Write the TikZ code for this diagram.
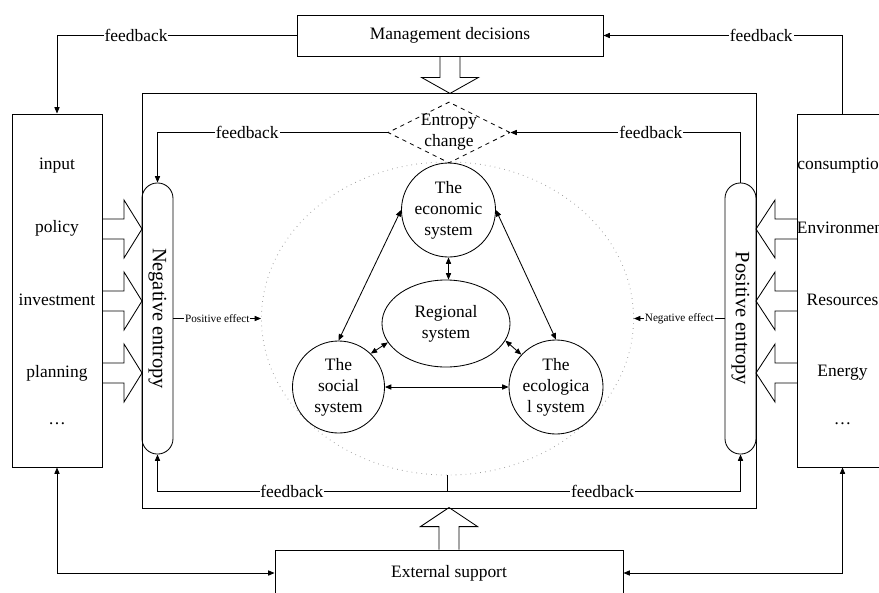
\documentclass[tikz,border=0pt]{standalone}
\usepackage{fontspec}
\setmainfont{Liberation Serif}
\usepackage{graphicx}
\usetikzlibrary{arrows.meta,shapes.geometric}

\begin{document}
\begin{tikzpicture}[x=0.025cm, y=-0.025cm, line width=0.6pt,
    font=\fontsize{12.4}{15}\selectfont,
    >={Triangle[length=1.6mm,width=1.3mm]},
    box/.style={draw, minimum width=2.25cm, minimum height=8.825cm},
    sysnode/.style={draw, circle, align=center, inner sep=0pt, minimum size=2.35cm},
    capsule/.style={draw, rounded corners=3.85mm, minimum width=0.775cm, minimum height=6.775cm,
        inner sep=0pt, font=\fontsize{14.5}{17}\selectfont},
    fb/.style={fill=white, inner sep=0.6pt},
    effect/.style={fill=white, inner sep=0.6pt, font=\fontsize{8}{9}\selectfont},
    hollow/.style={draw, line join=miter}]

\clip (0,0) rectangle (879,592);

% outer blocks
\node[draw, minimum width=7.65cm, minimum height=1.025cm] (mgmt) at (450,35.5) {Management decisions};
\node[draw, minimum width=15.35cm, minimum height=10.375cm] (frame) at (449,300.5) {};
\node[box] (inbox) at (57,290.5) {};
\node[box] (outbox) at (842.5,290.5) {};
\node[draw, minimum width=8.7cm, minimum height=1.15cm] (ext) at (449,573) {External support};

\foreach \t/\y [count=\i] in {input/166, policy/228, investment/300, planning/373, \dots/424}
    \node (in\i) at (57,\y) {\t};
\foreach \t/\y [count=\i] in {consumption/166, Environment/228, Resources/300, Energy/373, \dots/424}
    \node (out\i) at (842.5,\y) {\t};

% entropy
\node[capsule] (negent) at (157.5,318.5) {\rotatebox{-90}{Negative entropy}};
\node[capsule] (posent) at (740.5,318.5) {\rotatebox{-90}{Positive entropy}};
\node[diamond, draw, dashed, inner sep=0pt, minimum width=3.05cm, minimum height=1.525cm,
    label={[align=center, inner sep=0pt]center:Entropy\\change}] (ent) at (449,132.5) {};

% regional system
\node[draw, ellipse, gray!80, dash pattern=on 0.5pt off 3pt, minimum width=9.3cm, minimum height=7.825cm] (field) at (447.5,318.5) {};
\node[sysnode] (eco) at (448.5,210) {The\\economic\\system};
\node[draw, ellipse, align=center, minimum width=3.2cm, minimum height=2.175cm] (reg) at (446,323.5) {Regional\\system};
\node[sysnode, minimum size=2.3cm] (soc) at (338.5,387) {The\\social\\system};
\node[sysnode] (ecol) at (556,387) {The\\ecologica\\l system};

\draw[<->] (soc.north) -- (eco.west);
\draw[<->] (eco.east) -- (ecol.north);
\draw[<->] (eco.south) -- (eco.south |- reg.north);
\draw[<->] (reg.198) -- (soc.46);
\draw[<->] (reg.-16) -- (ecol.137);
\draw[<->] (soc.east) -- (ecol.west);

\draw[->] (negent.east) -- node[effect]{Positive effect} (field.west);
\draw[->] (posent.west) -- node[effect]{Negative effect} (field.east);

% feedback loops
\draw[->] (mgmt.west) -- node[fb, pos=0.67]{feedback} (inbox.north |- mgmt.west) -- (inbox.north);
\draw[->] (outbox.north) -- (outbox.north |- mgmt.east) -- node[fb, pos=0.34]{feedback} (mgmt.east);
\draw[->] (ent.west) -- node[fb, pos=0.61]{feedback} (negent.north |- ent.west) -- (negent.north);
\draw[->] (posent.north) -- (posent.north |- ent.east) -- node[fb, pos=0.39]{feedback} (ent.east);
\coordinate (fbmid) at (447,491);
\draw (fbmid) -- (fbmid |- field.south);
\draw[->] (fbmid) -- node[fb, pos=0.536]{feedback} (negent.south |- fbmid) -- (negent.south);
\draw[->] (fbmid) -- node[fb, pos=0.53]{feedback} (posent.south |- fbmid) -- (posent.south);

\draw[<->] (inbox.south) |- (ext.west);
\draw[<->] (outbox.south) |- (ext.east);

% hollow arrows
\draw[hollow] (mgmt.south) ++(-10,0) -- ++(0,21) -- ++(-18.5,0) -- ++(28.5,16) -- ++(28.5,-16) -- ++(-18.5,0) -- ++(0,-21);
\draw[hollow] (ext.north) ++(-10,0) -- ++(0,-23) -- ++(-18.5,0) -- ++(28.5,-19) -- ++(28.5,19) -- ++(-18.5,0) -- ++(0,23);
\foreach \y in {229,301,373} {
    \draw[hollow] (102,\y-10) -- (124,\y-10) -- (124,\y-29) -- (142,\y) -- (124,\y+29) -- (124,\y+10) -- (102,\y+10);
    \draw[hollow] (797.5,\y-10) -- (775,\y-10) -- (775,\y-29) -- (756,\y) -- (775,\y+29) -- (775,\y+10) -- (797.5,\y+10);
}
\end{tikzpicture}
\end{document}
